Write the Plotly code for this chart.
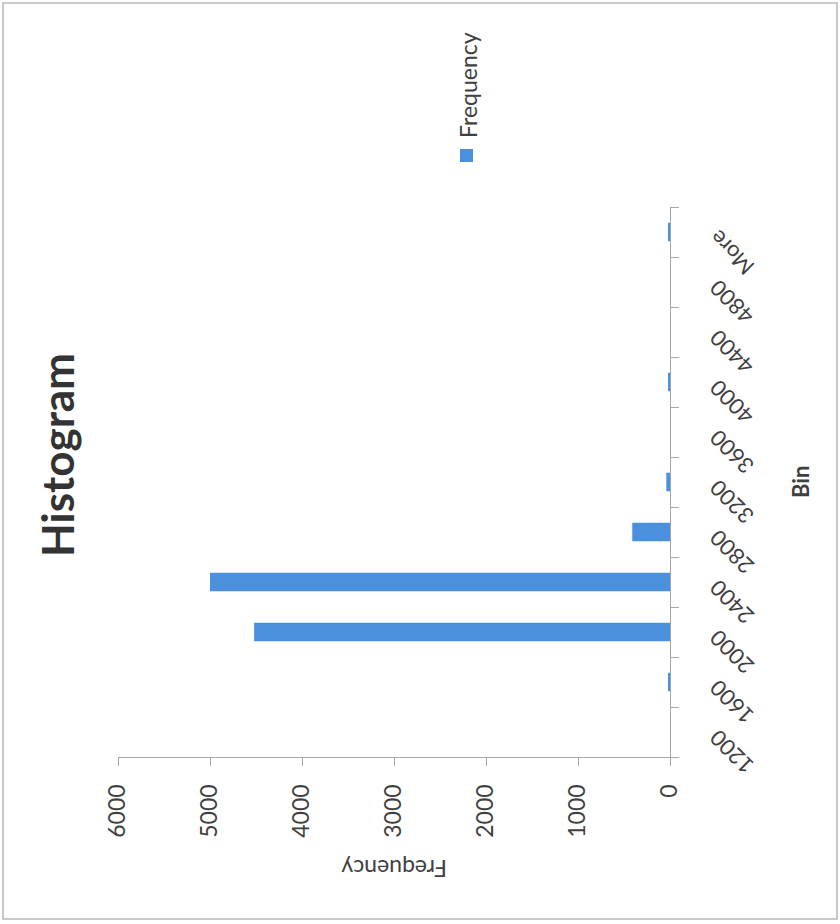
import plotly.graph_objects as go

bins = ["1200", "1600", "2000", "2400", "2800", "3200", "3600", "4000", "4400", "4800", "More"]
frequency = [0, 20, 4520, 5000, 410, 40, 0, 18, 0, 0, 20]
freq_ticks = [0, 1000, 2000, 3000, 4000, 5000, 6000]

BAR = "#4a90dc"
AXIS = "#a6a6a6"
TXT = "#404040"
FONT = "Lato"

W, H = 840, 924
L, R, T, B = 118, 170, 207, 167
PW, PH = W - L - R, H - T - B


def px(xp):
    return (xp - L) / PW


def py(yp):
    return (H - B - yp) / PH


fig = go.Figure()
fig.add_trace(go.Bar(
    y=bins, x=frequency, orientation="h", name="Frequency",
    marker=dict(color=BAR, line=dict(width=0)), showlegend=False,
))

fig.update_layout(
    width=W, height=H,
    margin=dict(l=L, r=R, t=T, b=B, pad=0),
    paper_bgcolor="white", plot_bgcolor="white",
    font=dict(family=FONT, color=TXT, size=23),
    bargap=0.63,
    xaxis=dict(
        range=[6000, 0], tickvals=freq_ticks, ticktext=[str(v) for v in freq_ticks],
        tickangle=-90, showgrid=False, zeroline=False,
        showline=True, linecolor=AXIS, linewidth=1.3,
        ticks="outside", ticklen=8, tickcolor=AXIS, tickwidth=1.3,
        ticklabelstandoff=9,
        tickfont=dict(family=FONT, size=23, color=TXT),
    ),
    yaxis=dict(
        type="category", categoryorder="array", categoryarray=bins,
        range=[-0.5, len(bins) - 0.5], side="right",
        showgrid=False, zeroline=False, showticklabels=False,
        showline=True, linecolor=AXIS, linewidth=1.3,
        ticks="outside", ticklen=8, tickcolor=AXIS, tickwidth=1.3,
        tickson="boundaries",
    ),
)

ann = []
for i, b in enumerate(bins):
    ann.append(dict(
        text=b, x=1, xref="paper", y=i, yref="y",
        xanchor="left", yanchor="top", xshift=31, yshift=10,
        textangle=-135, showarrow=False,
        font=dict(family=FONT, size=22, color=TXT),
    ))

ann += [
    dict(text="<b>Histogram</b>", x=px(57), y=py(455), xref="paper", yref="paper",
         xanchor="center", yanchor="middle", textangle=-90, showarrow=False,
         font=dict(family=FONT, size=44, color="#333333")),
    dict(text="Frequency", x=px(468), y=py(85), xref="paper", yref="paper",
         xanchor="center", yanchor="middle", textangle=-90, showarrow=False,
         font=dict(family=FONT, size=23, color=TXT)),
    dict(text="<b>Bin</b>", x=px(800), y=py(482), xref="paper", yref="paper",
         xanchor="center", yanchor="middle", textangle=-90, showarrow=False,
         font=dict(family=FONT, size=22, color=TXT)),
    dict(text="Frequency", x=0.5, y=py(869), xref="paper", yref="paper",
         xanchor="center", yanchor="middle", textangle=180, showarrow=False,
         font=dict(family=FONT, size=23, color=TXT)),
]
fig.update_layout(annotations=ann)

fig.update_layout(shapes=[
    dict(type="rect", xref="paper", yref="paper",
         x0=px(3), x1=px(837), y0=py(919), y1=py(3),
         line=dict(color="#b8b8b8", width=1.5), fillcolor="rgba(0,0,0,0)", layer="below"),
    dict(type="rect", xref="paper", yref="paper",
         x0=px(460), x1=px(473), y0=py(162), y1=py(149),
         line=dict(width=0), fillcolor=BAR),
])

fig.write_html("out.html")
